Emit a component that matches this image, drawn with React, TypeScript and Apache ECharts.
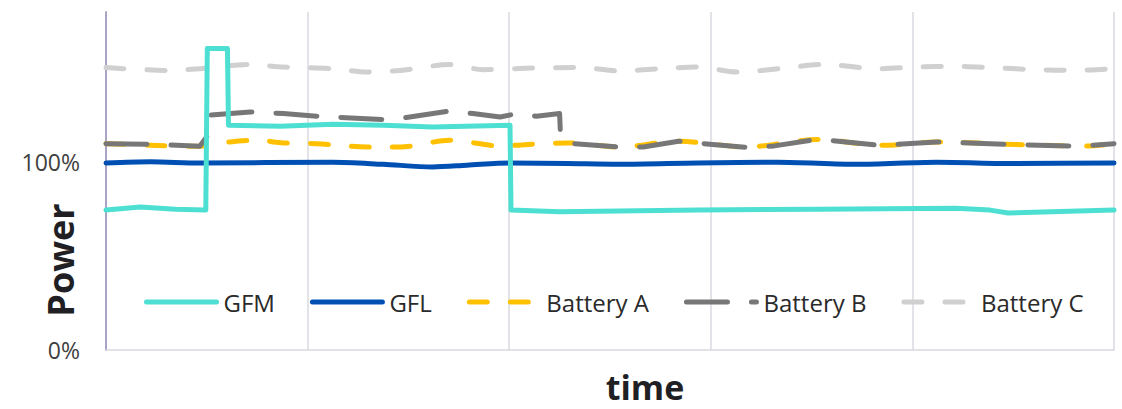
import React, { useEffect, useRef } from "react";
import * as echarts from "echarts";

const seriesNames = ["GFM", "GFL", "Battery A", "Battery B", "Battery C"];
const yTickLabels = ["0%", "100%"];
const xTitle = "time";
const yTitle = "Power";

const gfm: [number, number][] = [
  [0, 74.5], [3.4, 76.1], [6.9, 75.0], [9.9, 74.5], [10.05, 160.6], [12.05, 160.6],
  [12.15, 119.7], [17.3, 119.1], [22.5, 120.2], [27.5, 119.7], [32.4, 118.8], [40.08, 119.7],
  [40.18, 74.5], [45.0, 73.6], [58.7, 74.5], [70.6, 75.0], [84.3, 75.5], [87.7, 74.5],
  [89.5, 73.0], [100, 74.5],
];
const gfl: [number, number][] = [
  [0, 99.6], [4.4, 100.2], [9.3, 99.6], [22.5, 100.0], [27.5, 98.9], [32.4, 97.5], [35.8, 98.4],
  [40.1, 99.6], [45.7, 99.3], [50.9, 98.9], [58.7, 99.6], [66.7, 100.0], [74.5, 98.9],
  [82.4, 100.0], [90.3, 99.3], [100, 99.6],
];
const batteryA: [number, number][] = [
  [0, 109.9], [4.4, 109.0], [9.3, 108.5], [12.3, 110.8], [14.95, 111.7], [17.6, 110.3],
  [20.9, 109.9], [25.9, 108.1], [29.2, 108.1], [34.1, 111.7], [39.1, 108.7], [42.4, 109.6],
  [45.7, 110.3], [50.9, 108.1], [56.8, 111.2], [63.5, 108.1], [70.6, 112.1], [76.9, 109.0],
  [82.4, 110.8], [90.3, 109.4], [97.3, 108.7], [100, 109.9],
];
const batteryB: [number, number][] = [
  [0, 109.9], [4.4, 109.6], [9.3, 108.5], [10.0, 113.5], [10.15, 125.0], [14.3, 126.8],
  [17.6, 125.9], [20.9, 124.5], [27.5, 122.7], [29.8, 123.8], [33.8, 127.1], [36.4, 125.9],
  [39.1, 124.1], [40.4, 125.5], [42.7, 124.5], [45.0, 125.9], [45.1, 112.8], [46.5, 109.9],
  [50.9, 108.1], [53.3, 108.1], [56.8, 111.2], [59.9, 109.6], [63.9, 107.8], [66.3, 108.7],
  [70.6, 112.2], [76.9, 109.0], [82.4, 110.8], [90.3, 109.4], [96.5, 108.5], [100, 109.9],
];
const batteryC: [number, number][] = [
  [0, 150.4], [6.0, 148.9], [9.3, 149.8], [14.3, 152.0], [17.6, 150.7], [22.5, 149.8],
  [25.9, 148.0], [29.2, 148.9], [34.1, 152.0], [37.4, 149.3], [42.4, 150.2], [47.3, 150.4],
  [50.9, 148.6], [54.9, 149.8], [58.7, 150.7], [62.7, 148.0], [66.7, 149.8], [71.3, 152.1],
  [76.5, 149.8], [80.5, 150.7], [84.3, 151.1], [88.3, 150.2], [92.3, 149.3], [96.1, 148.9],
  [100, 149.8],
];

const FONT = "'Open Sans', 'Noto Sans', sans-serif";

export default function App() {
  const ref = useRef<HTMLDivElement>(null);
  useEffect(() => {
    if (!ref.current) return;
    const chart = echarts.init(ref.current, undefined, { renderer: "svg" });
    const mk = (name: string, data: [number, number][], color: string, dash: any, smooth: any, z: number) => ({
      name,
      type: "line",
      data,
      symbol: "none",
      smooth,
      z,
      lineStyle: { color, width: 5, type: dash, cap: "round", join: "round" },
      itemStyle: { color },
    });
    chart.setOption({
      animation: false,
      grid: { left: 106, right: 8, top: 12, bottom: 59, containLabel: false },
      xAxis: {
        type: "value",
        min: 0,
        max: 100,
        interval: 20,
        axisLabel: { show: false },
        axisTick: { show: false },
        axisLine: { show: true, lineStyle: { color: "#D9D8E2", width: 1.5 } },
        splitLine: { show: true, lineStyle: { color: "#D9D8E2", width: 1.5 } },
      },
      yAxis: {
        type: "value",
        min: 0,
        max: 180,
        interval: 100,
        axisLabel: {
          color: "#404040",
          fontFamily: FONT,
          fontSize: 23,
          margin: 26,
          showMaxLabel: false,
          formatter: (v: number) => (v === 0 ? yTickLabels[0] : v === 100 ? yTickLabels[1] : ""),
        },
        axisTick: { show: false },
        axisLine: { show: true, lineStyle: { color: "#ABA3C5", width: 2 } },
        splitLine: { show: false },
      },
      legend: {
        data: seriesNames,
        left: 139,
        top: 285,
        itemWidth: 70,
        itemHeight: 14,
        itemGap: 35,
        itemStyle: { opacity: 0 },
        lineStyle: { width: 5, cap: "round" },
        textStyle: { color: "#2a2a2a", fontFamily: FONT, fontSize: 24, padding: [0, 0, 0, 2] },
      },
      graphic: [
        {
          type: "text",
          x: 60,
          y: 260,
          rotation: Math.PI / 2,
          style: {
            text: yTitle,
            fontFamily: FONT,
            fontWeight: "bold",
            fontSize: 36,
            fill: "#1f1f24",
            align: "center",
            verticalAlign: "middle",
          },
        },
        {
          type: "text",
          x: 645,
          y: 404,
          style: {
            text: xTitle,
            fontFamily: FONT,
            fontWeight: "bold",
            fontSize: 34,
            fill: "#1f1f24",
            align: "center",
            verticalAlign: "bottom",
          },
        },
      ],
      series: [
        mk(seriesNames[0], gfm, "#4DE0D2", "solid", false, 6),
        mk(seriesNames[1], gfl, "#0050B4", "solid", 0.3, 5),
        mk(seriesNames[2], batteryA, "#FFC000", [18, 23], 0.3, 3),
        mk(seriesNames[3], batteryB, "#777777", [41, 24], false, 4),
        mk(seriesNames[4], batteryC, "#D0D0D0", [18, 23], 0.3, 2),
      ],
    });
    return () => chart.dispose();
  }, []);
  return (
    <div
      ref={ref}
      style={{ position: "fixed", left: 0, top: 0, width: 1122, height: 409, background: "#fff" }}
    />
  );
}
